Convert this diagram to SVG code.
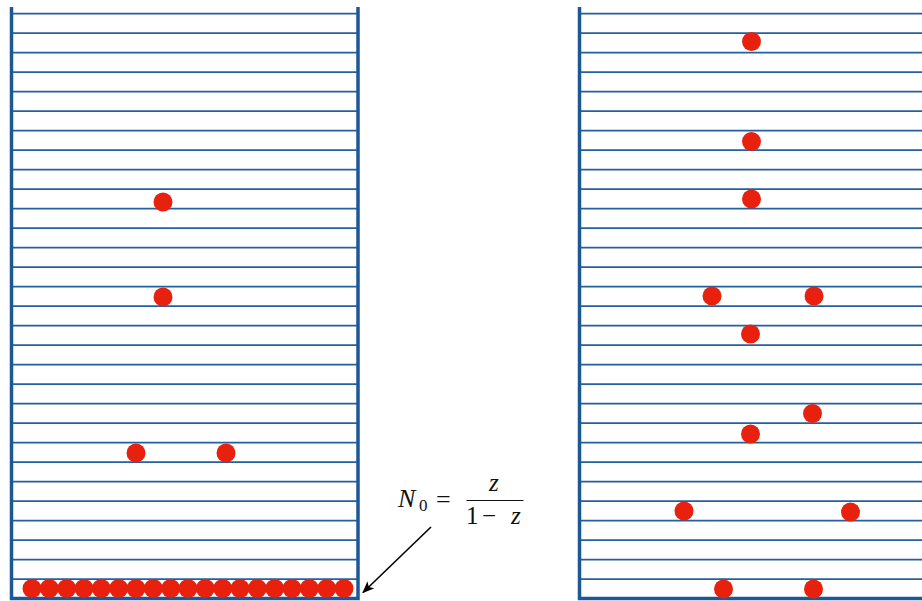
<svg xmlns="http://www.w3.org/2000/svg" width="922" height="601" viewBox="0 0 922 601">
<style>
.rung{stroke:#245f9e;stroke-width:1.8;fill:none}
.wall{stroke:#1c5896;stroke-width:3.5;fill:none}
.p{fill:#e8200e}
.m{font-family:"Liberation Serif","DejaVu Serif",serif;fill:#111}
</style>
<defs>
<marker id="ah" markerWidth="12" markerHeight="10" refX="11" refY="5" orient="auto" markerUnits="userSpaceOnUse">
<path d="M0,0 L12,5 L0,10 L3,5 Z" fill="#000"/>
</marker>
</defs>
<g id="tube-left">
<g class="rung">
<line x1="11" y1="13.7" x2="358" y2="13.7"/><line x1="11" y1="33.2" x2="358" y2="33.2"/><line x1="11" y1="52.7" x2="358" y2="52.7"/><line x1="11" y1="72.2" x2="358" y2="72.2"/><line x1="11" y1="91.7" x2="358" y2="91.7"/><line x1="11" y1="111.2" x2="358" y2="111.2"/><line x1="11" y1="130.7" x2="358" y2="130.7"/><line x1="11" y1="150.2" x2="358" y2="150.2"/><line x1="11" y1="169.7" x2="358" y2="169.7"/><line x1="11" y1="189.2" x2="358" y2="189.2"/><line x1="11" y1="208.7" x2="358" y2="208.7"/><line x1="11" y1="228.2" x2="358" y2="228.2"/><line x1="11" y1="247.7" x2="358" y2="247.7"/><line x1="11" y1="267.2" x2="358" y2="267.2"/><line x1="11" y1="286.7" x2="358" y2="286.7"/><line x1="11" y1="306.2" x2="358" y2="306.2"/><line x1="11" y1="325.7" x2="358" y2="325.7"/><line x1="11" y1="345.2" x2="358" y2="345.2"/><line x1="11" y1="364.7" x2="358" y2="364.7"/><line x1="11" y1="384.2" x2="358" y2="384.2"/><line x1="11" y1="403.7" x2="358" y2="403.7"/><line x1="11" y1="423.2" x2="358" y2="423.2"/><line x1="11" y1="442.7" x2="358" y2="442.7"/><line x1="11" y1="462.2" x2="358" y2="462.2"/><line x1="11" y1="481.7" x2="358" y2="481.7"/><line x1="11" y1="501.2" x2="358" y2="501.2"/><line x1="11" y1="520.7" x2="358" y2="520.7"/><line x1="11" y1="540.2" x2="358" y2="540.2"/><line x1="11" y1="559.7" x2="358" y2="559.7"/><line x1="11" y1="579.2" x2="358" y2="579.2"/>
</g>
<path class="wall" d="M11.5,7 V598.5 H358 V7"/>
</g>
<g id="tube-right">
<g class="rung">
<line x1="579" y1="13.7" x2="922" y2="13.7"/><line x1="579" y1="33.2" x2="922" y2="33.2"/><line x1="579" y1="52.7" x2="922" y2="52.7"/><line x1="579" y1="72.2" x2="922" y2="72.2"/><line x1="579" y1="91.7" x2="922" y2="91.7"/><line x1="579" y1="111.2" x2="922" y2="111.2"/><line x1="579" y1="130.7" x2="922" y2="130.7"/><line x1="579" y1="150.2" x2="922" y2="150.2"/><line x1="579" y1="169.7" x2="922" y2="169.7"/><line x1="579" y1="189.2" x2="922" y2="189.2"/><line x1="579" y1="208.7" x2="922" y2="208.7"/><line x1="579" y1="228.2" x2="922" y2="228.2"/><line x1="579" y1="247.7" x2="922" y2="247.7"/><line x1="579" y1="267.2" x2="922" y2="267.2"/><line x1="579" y1="286.7" x2="922" y2="286.7"/><line x1="579" y1="306.2" x2="922" y2="306.2"/><line x1="579" y1="325.7" x2="922" y2="325.7"/><line x1="579" y1="345.2" x2="922" y2="345.2"/><line x1="579" y1="364.7" x2="922" y2="364.7"/><line x1="579" y1="384.2" x2="922" y2="384.2"/><line x1="579" y1="403.7" x2="922" y2="403.7"/><line x1="579" y1="423.2" x2="922" y2="423.2"/><line x1="579" y1="442.7" x2="922" y2="442.7"/><line x1="579" y1="462.2" x2="922" y2="462.2"/><line x1="579" y1="481.7" x2="922" y2="481.7"/><line x1="579" y1="501.2" x2="922" y2="501.2"/><line x1="579" y1="520.7" x2="922" y2="520.7"/><line x1="579" y1="540.2" x2="922" y2="540.2"/><line x1="579" y1="559.7" x2="922" y2="559.7"/><line x1="579" y1="579.2" x2="922" y2="579.2"/>
</g>
<path class="wall" d="M579.5,7 V598.5 H922"/>
</g>
<g id="particles-left" class="p">
<circle cx="163" cy="202" r="9.5"/><circle cx="163" cy="297" r="9.5"/><circle cx="136" cy="453" r="9.5"/><circle cx="226" cy="453" r="9.5"/>
<circle cx="32" cy="588.5" r="9.5"/><circle cx="49.3" cy="588.5" r="9.5"/><circle cx="66.7" cy="588.5" r="9.5"/><circle cx="84" cy="588.5" r="9.5"/><circle cx="101.3" cy="588.5" r="9.5"/><circle cx="118.7" cy="588.5" r="9.5"/><circle cx="136" cy="588.5" r="9.5"/><circle cx="153.3" cy="588.5" r="9.5"/><circle cx="170.7" cy="588.5" r="9.5"/><circle cx="188" cy="588.5" r="9.5"/><circle cx="205.3" cy="588.5" r="9.5"/><circle cx="222.7" cy="588.5" r="9.5"/><circle cx="240" cy="588.5" r="9.5"/><circle cx="257.3" cy="588.5" r="9.5"/><circle cx="274.7" cy="588.5" r="9.5"/><circle cx="292" cy="588.5" r="9.5"/><circle cx="309.3" cy="588.5" r="9.5"/><circle cx="326.7" cy="588.5" r="9.5"/><circle cx="344" cy="588.5" r="9.5"/>
</g>
<g id="particles-right" class="p">
<circle cx="751.5" cy="41.5" r="9.5"/><circle cx="751.5" cy="141.5" r="9.5"/><circle cx="751.5" cy="199" r="9.5"/><circle cx="712" cy="296" r="9.5"/><circle cx="814" cy="296" r="9.5"/><circle cx="750.5" cy="334" r="9.5"/><circle cx="812.5" cy="413.5" r="9.5"/><circle cx="750.5" cy="434" r="9.5"/><circle cx="684" cy="511" r="9.5"/><circle cx="850.5" cy="512" r="9.5"/><circle cx="723.5" cy="589" r="9.5"/><circle cx="813.5" cy="589" r="9.5"/>
</g>
<g id="connectors">
<line x1="431" y1="527" x2="363" y2="592.5" stroke="#000" stroke-width="1.6" marker-end="url(#ah)"/>
</g>
<g id="label">
<text class="m" x="398" y="507" style="font-size:26px;font-style:italic">N</text>
<text class="m" x="419" y="511" style="font-size:17px">0</text>
<text class="m" x="436" y="508" style="font-size:26px">=</text>
<text class="m" x="489" y="491" style="font-size:25px;font-style:italic">z</text>
<line x1="466.5" y1="500.5" x2="523.5" y2="500.5" stroke="#111" stroke-width="1.1"/>
<text class="m" x="466" y="523.5" style="font-size:25px">1</text>
<text class="m" x="482" y="523.5" style="font-size:25px">−</text>
<text class="m" x="511" y="523.5" style="font-size:25px;font-style:italic">z</text>
</g>
</svg>
